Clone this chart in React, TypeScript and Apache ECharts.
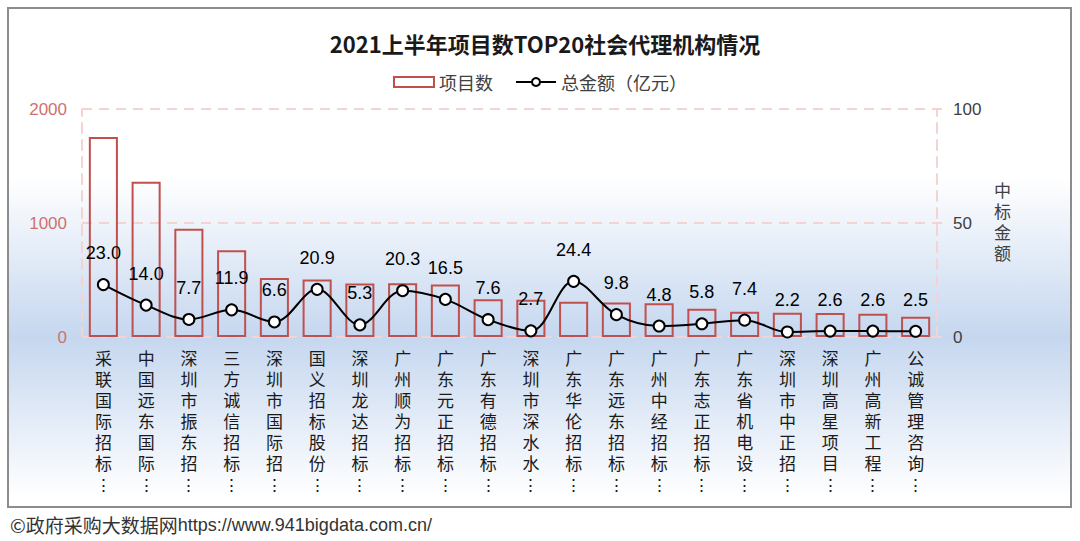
import React, { useEffect, useRef } from "react";
import * as echarts from "echarts";

const titleText = "2021上半年项目数TOP20社会代理机构情况";
const barName = "项目数";
const lineName = "总金额（亿元）";
const rightAxisName = "中标金额";
const footerCn = "©政府采购大数据网";
const footerUrl = "https://www.941bigdata.com.cn/";

const categories = [
  "采联国际招标", "中国远东国际", "深圳市振东招", "三方诚信招标", "深圳市国际招",
  "国义招标股份", "深圳龙达招标", "广州顺为招标", "广东元正招标", "广东有德招标",
  "深圳市深水水", "广东华伦招标", "广东远东招标", "广州中经招标", "广东志正招标",
  "广东省机电设", "深圳市中正招", "深圳高星项目", "广州高新工程", "公诚管理咨询",
];
const projectCounts = [1755, 1362, 949, 762, 518, 504, 469, 472, 460, 332, 326, 310, 302, 295, 248, 222, 213, 210, 204, 178];
const amounts = [23.0, 14.0, 7.7, 11.9, 6.6, 20.9, 5.3, 20.3, 16.5, 7.6, 2.7, 24.4, 9.8, 4.8, 5.8, 7.4, 2.2, 2.6, 2.6, 2.5];
const leftTicks = { min: 0, max: 2000, interval: 1000 };
const rightTicks = { min: 0, max: 100, interval: 50 };

const FONT = "'Noto Sans CJK SC', 'Noto Sans', sans-serif";
const NUMFONT = "'Liberation Sans', Arial, sans-serif";
const TIGHTFONT = "'Liberation Sans', 'Noto Sans CJK SC', sans-serif";

export default function App() {
  const ref = useRef<HTMLDivElement>(null);
  useEffect(() => {
    if (!ref.current) return;
    const chart = echarts.init(ref.current, null, { renderer: "svg" });
    const splitStyle = { color: "#f4d3d3", width: 2, type: [10, 7] as any };
    chart.setOption({
      animation: false,
      textStyle: { fontFamily: FONT },
      graphic: [
        {
          type: "rect",
          z: -10,
          silent: true,
          shape: { x: 8, y: 8, width: 1063, height: 499 },
          style: {
            fill: new echarts.graphic.LinearGradient(0, 0, 0, 1, [
              { offset: 0, color: "#ffffff" },
              { offset: 0.34, color: "#ffffff" },
              { offset: 0.66, color: "#c5d7ef" },
              { offset: 0.98, color: "#ffffff" },
              { offset: 1, color: "#ffffff" },
            ]),
            stroke: "#8c8c8c",
            lineWidth: 2,
          },
        },
        {
          type: "text",
          left: 10,
          top: 515,
          style: {
            text: `{a|${footerCn}}{b|${footerUrl}}`,
            rich: {
              a: { fontSize: 19, fontFamily: FONT, fill: "#333333", color: "#333333" },
              b: { fontSize: 18, fontFamily: NUMFONT, fill: "#333333", color: "#333333" },
            },
          },
        },
        {
          type: "text",
          left: 994,
          top: 181,
          style: {
            text: rightAxisName.split("").join("\n"),
            fill: "#404040",
            font: `17px ${TIGHTFONT}`,
            lineHeight: 21,
            align: "left",
          },
        },
      ],
      title: {
        text: titleText,
        left: 540,
        textAlign: "center",
        top: 27,
        textStyle: { fontSize: 22, fontWeight: "bold", color: "#1a1a1a", fontFamily: FONT },
      },
      legend: {
        left: 388,
        top: 68,
        itemWidth: 40,
        itemHeight: 10,
        itemGap: 22,
        textStyle: { fontSize: 18, color: "#404040", fontFamily: FONT },
        data: [
          { name: barName, icon: "rect", itemStyle: { color: "transparent", borderColor: "#c0504d", borderWidth: 2 } },
          { name: lineName },
        ],
      },
      grid: { left: 82, right: 143, top: 109, bottom: 204 },
      xAxis: {
        type: "category",
        data: categories,
        axisLine: { lineStyle: splitStyle },
        axisTick: { show: false },
        axisLabel: {
          interval: 0,
          color: "#1a1a1a",
          fontSize: 17,
          fontFamily: TIGHTFONT,
          lineHeight: 21,
          margin: 12,
          formatter: (v: string) => v.split("").join("\n") + "\n⋮",
        },
      },
      yAxis: [
        {
          type: "value",
          ...leftTicks,
          axisLine: { show: true, lineStyle: splitStyle },
          axisTick: { show: false },
          splitLine: { show: true, lineStyle: splitStyle },
          axisLabel: { color: "#d0706d", fontSize: 17, fontFamily: NUMFONT, margin: 15, formatter: (v: number) => String(v) },
        },
        {
          type: "value",
          ...rightTicks,
          position: "right",
          axisLine: { show: true, lineStyle: splitStyle },
          axisTick: { show: true, length: 5, lineStyle: { color: "#f4d3d3", width: 2 } },
          splitLine: { show: false },
          axisLabel: { color: "#404040", fontSize: 17, fontFamily: NUMFONT, margin: 16, formatter: (v: number) => String(v) },
        },
      ],
      series: [
        {
          name: barName,
          type: "bar",
          yAxisIndex: 0,
          data: projectCounts,
          barWidth: "68%",
          itemStyle: { color: "transparent", borderColor: "#c0504d", borderWidth: 2 },
        },
        {
          name: lineName,
          type: "line",
          yAxisIndex: 1,
          data: amounts,
          smooth: 0.35,
          symbol: "circle",
          symbolSize: 11,
          lineStyle: { color: "#000000", width: 2 },
          itemStyle: { color: "#ffffff", borderColor: "#000000", borderWidth: 2 },
          label: {
            show: true,
            position: "top",
            distance: 16,
            color: "#000000",
            fontSize: 18,
            fontFamily: NUMFONT,
            formatter: (p: any) => Number(p.value).toFixed(1),
          },
          z: 5,
        },
      ],
    });
    return () => chart.dispose();
  }, []);
  return (
    <div
      ref={ref}
      style={{ position: "fixed", left: 0, top: 0, width: 1080, height: 541, background: "#ffffff" }}
    />
  );
}
